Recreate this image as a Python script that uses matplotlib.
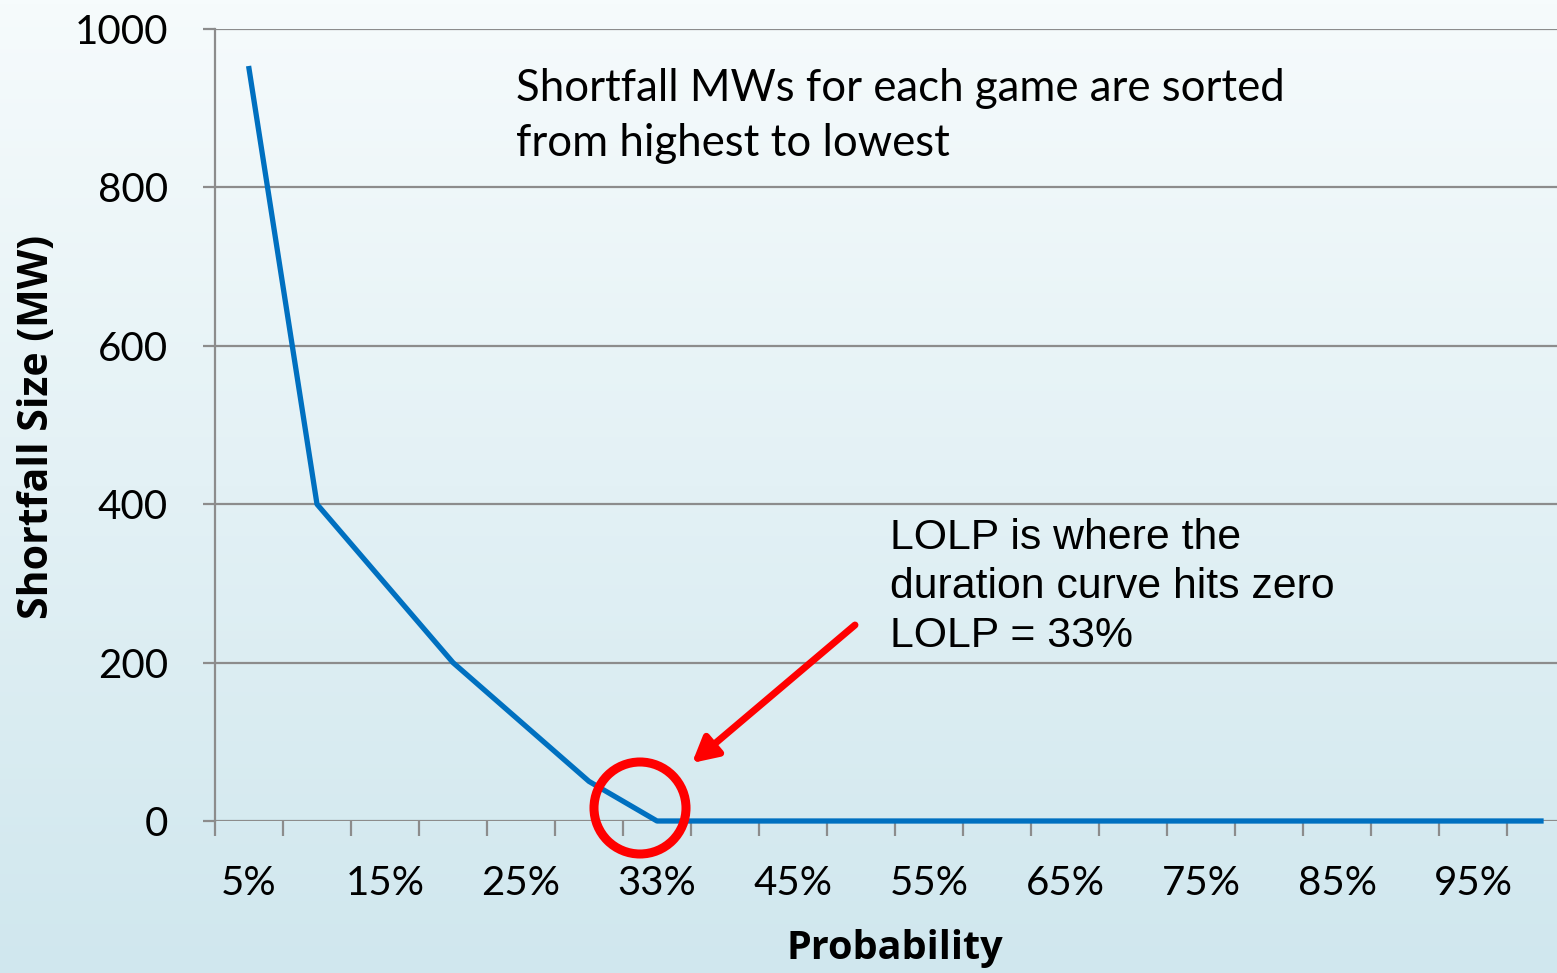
import numpy as np
import matplotlib.pyplot as plt
from matplotlib.patches import Ellipse
from matplotlib.colors import LinearSegmentedColormap

# data
categories = ['5%', '10%', '15%', '20%', '25%', '30%', '33%', '40%', '45%', '50%',
              '55%', '60%', '65%', '70%', '75%', '80%', '85%', '90%', '95%', '100%']
shortfall_mw = [950, 400, 300, 200, 125, 50, 0, 0, 0, 0,
                0, 0, 0, 0, 0, 0, 0, 0, 0, 0]
y_ticks = [0, 200, 400, 600, 800, 1000]

W, H = 1557, 973
fig = plt.figure(figsize=(W / 100, H / 100), dpi=100)

# background gradient, near white at top to pale blue at bottom
bg = fig.add_axes([0, 0, 1, 1], zorder=-1)
cmap = LinearSegmentedColormap.from_list('bg', ['#f6fbfc', '#d0e7ee'])
grad = np.linspace(0, 1, 256).reshape(-1, 1)
bg.imshow(grad, aspect='auto', cmap=cmap, extent=[0, 1, 0, 1], origin='upper')
bg.axis('off')

left, right, bottom, top = 215, 1575, 821, 29
ax = fig.add_axes([left / W, 1 - bottom / H, (right - left) / W, (bottom - top) / H])
ax.set_facecolor('none')

x = np.arange(1, len(categories) + 1)
ax.plot(x, shortfall_mw, color='#0070c0', lw=3.8, zorder=3, clip_on=False)

ax.set_xlim(0.5, len(categories) + 0.5)
ax.set_ylim(0, 1000)

grid_c = '#8c8c8c'
ax.set_yticks(y_ticks)
ax.yaxis.grid(True, color=grid_c, lw=1.6)
ax.set_axisbelow(True)
for s in ['top', 'right', 'bottom']:
    ax.spines[s].set_visible(False)
ax.spines['left'].set_color(grid_c)
ax.spines['left'].set_linewidth(1.6)
ax.spines['left'].set_bounds(0, 1000)

tick_font = 'Lato'
ax.tick_params(axis='y', length=9, width=1.6, color=grid_c, pad=25, labelsize=29)
for lbl in ax.get_yticklabels():
    lbl.set_fontfamily(tick_font)

# major ticks at category boundaries, labels on minor ticks
ax.set_xticks(np.arange(0.5, len(categories) + 1, 1))
ax.set_xticklabels([])
ax.tick_params(axis='x', which='major', length=11, width=1.6, color=grid_c, direction='out')
ax.set_xticks(x, minor=True)
ax.set_xticklabels([c if i % 2 == 0 else '' for i, c in enumerate(categories)], minor=True)
ax.tick_params(axis='x', which='minor', length=0, pad=32, labelsize=29)
for lbl in ax.get_xticklabels(minor=True):
    lbl.set_fontfamily(tick_font)

fig.text(895 / W, 1 - 949 / H, 'Probability', ha='center', va='center',
         fontsize=28.5, fontweight='bold', family='Open Sans')
fig.text(38 / W, 1 - 427 / H, 'Shortfall Size (MW)', ha='center', va='center',
         rotation=90, fontsize=29.5, fontweight='bold', family='Open Sans')

fig.text(516 / W, 1 - 116 / H, 'Shortfall MWs for each game are sorted\nfrom highest to lowest',
         ha='left', va='center', fontsize=31.5, family=tick_font, linespacing=1.44)
fig.text(890 / W, 1 - 587 / H, 'LOLP is where the\nduration curve hits zero\nLOLP = 33%',
         ha='left', va='center', fontsize=30.8, family='Liberation Sans', linespacing=1.29)

# red circle and arrow marking the zero crossing
fig.add_artist(Ellipse((640 / W, 1 - 808 / H), 92 / W, 92 / H, transform=fig.transFigure,
                       fill=False, edgecolor='#ff0000', lw=6.5, zorder=5))
ax.annotate('', xy=(692 / W, 1 - 763 / H), xytext=(855 / W, 1 - 625 / H),
            xycoords='figure fraction', textcoords='figure fraction',
            arrowprops=dict(arrowstyle='-|>,head_length=1.5,head_width=0.8',
                            color='#ff0000', lw=5, shrinkA=0, shrinkB=0))

fig.savefig('out.png', dpi=100)
